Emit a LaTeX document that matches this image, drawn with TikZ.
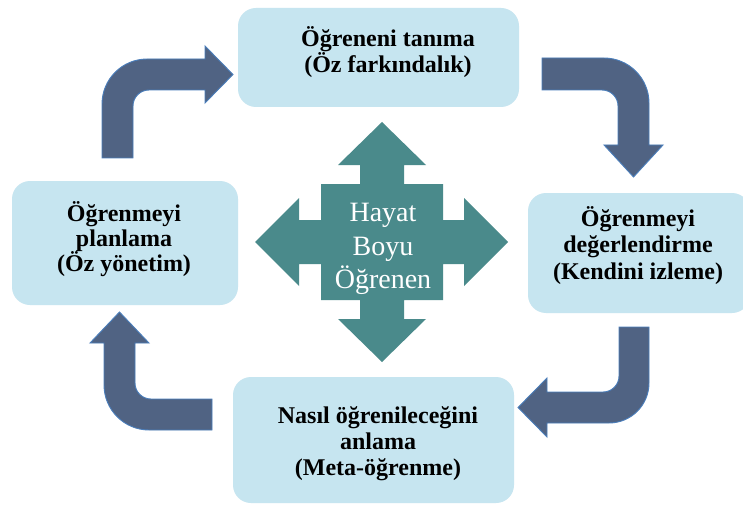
\documentclass[tikz,border=0pt]{standalone}
\usepackage{fontspec}
\setmainfont{Liberation Serif}

\definecolor{boxfill}{RGB}{198,229,240}
\definecolor{bendfill}{RGB}{80,99,131}
\definecolor{bendline}{RGB}{74,126,187}
\definecolor{hubfill}{RGB}{74,138,139}

% bold label text with a fixed line pitch
\newcommand{\labelfont}[1]{\fontsize{24}{#1}\selectfont\bfseries\lineskiplimit=-100pt\relax}
\newcommand{\hubfont}{\fontsize{28}{33.5}\selectfont\lineskiplimit=-100pt\relax}

\tikzset{
  panel/.style={draw=none, fill=boxfill, rounded corners=18pt, inner sep=0pt},
  panellabel/.style={align=center, inner sep=0pt, text=black},
  bentarrow/.style={fill=bendfill, draw=bendline, line width=0.9pt, line join=miter},
  hub/.style={fill=hubfill, draw=none},
  hublabel/.style={align=center, inner sep=0pt, text=white, font=\hubfont}
}

\begin{document}
\begin{tikzpicture}[x=1pt, y=-1pt]
  \useasboundingbox (0,0) rectangle (743,505);
  \fill[white] (0,0) rectangle (743,505);
  \clip (0,0) rectangle (743,505);

  % the four stages
  \node[panel, minimum width=281pt, minimum height=99pt]  (topbox)    at (378.5,57.5) {};
  \node[panel, minimum width=226pt, minimum height=124pt] (leftbox)   at (125,243)    {};
  \node[panel, minimum width=222pt, minimum height=120pt] (rightbox)  at (639,253)    {};
  \node[panel, minimum width=281pt, minimum height=126pt] (bottombox) at (373.5,440)  {};

  % bent arrows running clockwise between the stages (quarter bends as Bezier arcs)
  % upper left: up, then right
  \path[bentarrow] (102,158) -- (102,104) .. controls (102,79.2) and (122.2,59) .. (147,59)
    -- (205,59) -- (205,46) -- (233,74.5) -- (205,103) -- (205,90)
    -- (149,90) .. controls (140.2,90) and (133,97.2) .. (133,106) -- (133,158) -- cycle;
  % upper right: right, then down
  \path[bentarrow] (542,58) -- (604,58) .. controls (628.8,58) and (649,78.2) .. (649,103)
    -- (649,145) -- (663,145) -- (633.5,177) -- (604,145) -- (618,145)
    -- (618,106) .. controls (618,97.2) and (610.8,90) .. (602,90) -- (542,90) -- cycle;
  % lower right: down, then left
  \path[bentarrow] (649,327) -- (649,383) .. controls (649,405.1) and (631.1,423) .. (609,423)
    -- (547,423) -- (547,437) -- (518,407.5) -- (547,378) -- (547,392)
    -- (603,392) .. controls (611.8,392) and (619,384.8) .. (619,376) -- (619,327) -- cycle;
  % lower left: left, then up
  \path[bentarrow] (212,430) -- (149,430) .. controls (124.2,430) and (104,409.8) .. (104,385)
    -- (104,343) -- (90,343) -- (119.5,312) -- (149,343) -- (135,343)
    -- (135,383) .. controls (135,391.8) and (142.2,399) .. (151,399) -- (212,399) -- cycle;

  % four-way arrow in the middle
  \path[hub] (382,122) -- (426,165) -- (404,165) -- (404,184) -- (443,184) -- (443,220)
    -- (464,220) -- (464,198) -- (508,242) -- (464,286) -- (464,264) -- (443,264)
    -- (443,300) -- (404,300) -- (404,319) -- (426,319) -- (382,362) -- (338,319)
    -- (360,319) -- (360,300) -- (321,300) -- (321,264) -- (299,264) -- (299,286)
    -- (255,242) -- (299,198) -- (299,220) -- (321,220) -- (321,184) -- (360,184)
    -- (360,165) -- (338,165) -- cycle;
  \node[hublabel] (hubtext) at (383,249.2) {Hayat\\Boyu\\Öğrenen};

  % stage labels
  \node[panellabel, font=\labelfont{26}]   (toptext)    at (388,51.9)  {Öğreneni tanıma\\(Öz farkındalık)};
  \node[panellabel, font=\labelfont{25}]   (lefttext)   at (124,239.3) {Öğrenmeyi\\planlama\\(Öz yönetim)};
  \node[panellabel, font=\labelfont{26.5}] (righttext)  at (638,245.4) {Öğrenmeyi\\değerlendirme\\(Kendini izleme)};
  \node[panellabel, font=\labelfont{26}]   (bottomtext) at (378,443.4) {Nasıl öğrenileceğini\\anlama\\(Meta-öğrenme)};
\end{tikzpicture}
\end{document}
